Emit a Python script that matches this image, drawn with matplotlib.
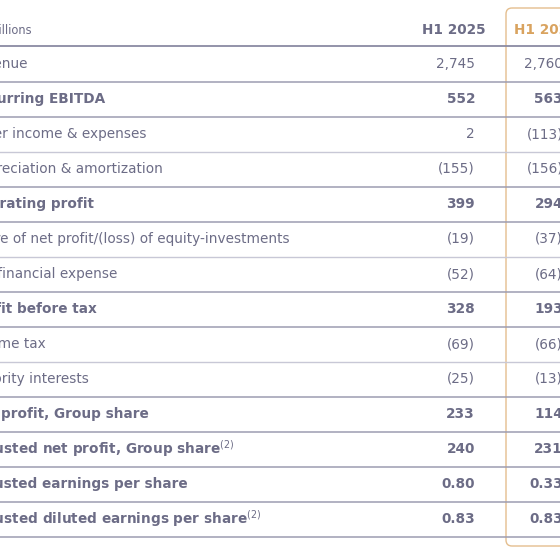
import matplotlib.pyplot as plt
from matplotlib.patches import FancyBboxPatch

header = ["In € millions", "H1 2025", "H1 2024"]
labels = ["Revenue", "Recurring EBITDA", "Other income & expenses",
          "Depreciation & amortization", "Operating profit",
          "Share of net profit/(loss) of equity-investments",
          "Net financial expense", "Profit before tax", "Income tax",
          "Minority interests", "Net profit, Group share",
          "Adjusted net profit, Group share$^{(2)}$",
          "Adjusted earnings per share",
          "Adjusted diluted earnings per share$^{(2)}$"]
h1_2025 = ["2,745", "552", "2", "(155)", "399", "(19)", "(52)", "328", "(69)",
           "(25)", "233", "240", "0.80", "0.83"]
h1_2024 = ["2,760", "563", "(113)", "(156)", "294", "(37)", "(64)", "193", "(66)",
           "(13)", "114", "231", "0.33", "0.83"]
bold = [False, True, False, False, True, False, False, True, False, False,
        True, True, True, True]

txt = "#6c6c86"
orange = "#d9a35f"
W = H = 560
fig = plt.figure(figsize=(5.6, 5.6), dpi=100)
ax = fig.add_axes([0, 0, 1, 1])
ax.set_xlim(0, W)
ax.set_ylim(H, 0)
ax.axis("off")

# highlighted column frame
ax.add_patch(FancyBboxPatch((506, 8), 100, 538, boxstyle="round,pad=0,rounding_size=6",
                            fill=False, ec=orange, lw=1, alpha=0.7))

fs = 9.8
ax.text(-38, 30, header[0], color=txt, fontsize=fs - 1.5, va="center")
ax.text(486, 30, header[1], color=txt, fontsize=fs, weight="bold", va="center", ha="right")
ax.text(514, 30, header[2], color=orange, fontsize=fs, weight="bold", va="center", ha="left")
ax.plot([0, W], [46, 46], color="#8a8aa2", lw=1.3)

y0, dy = 64, 35
for i, lab in enumerate(labels):
    y = y0 + i * dy
    w = "bold" if bold[i] else "normal"
    ax.text(-31, y, lab, color=txt, fontsize=fs, weight=w, va="center", ha="left")
    ax.text(475, y, h1_2025[i], color=txt, fontsize=fs, weight=w, va="center", ha="right")
    ax.text(563, y, h1_2024[i], color=txt, fontsize=fs, weight=w, va="center", ha="right")
    ly = y + dy / 2
    dark = bold[i] or (i + 1 < len(bold) and bold[i + 1])
    ax.plot([0, W], [ly, ly], color="#9c9cb2" if dark else "#c8c8d6",
            lw=1.1 if dark else 1.0)

fig.savefig("out.png", dpi=100)
